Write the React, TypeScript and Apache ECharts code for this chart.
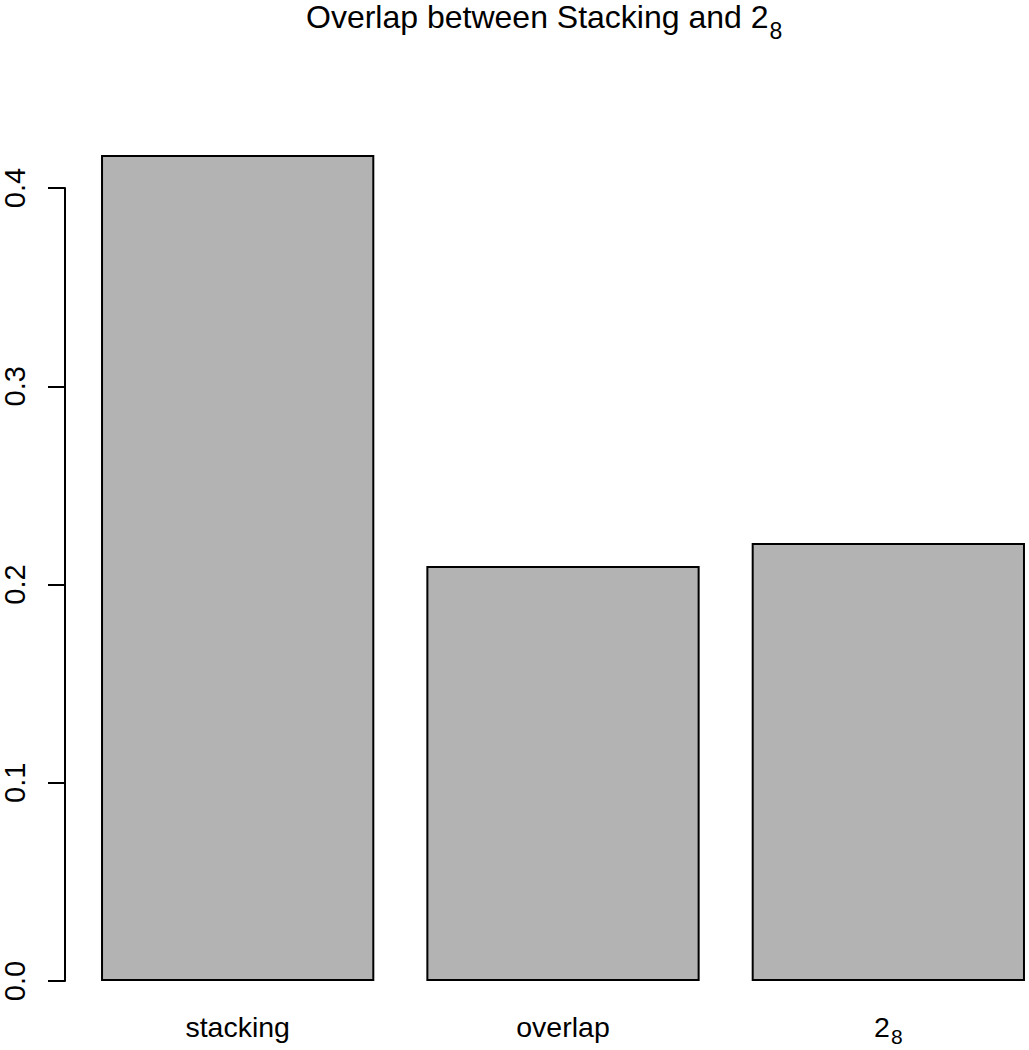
import React, { useEffect, useRef } from "react";
import * as echarts from "echarts";

const categories = ["stacking", "overlap", "2_8"];
const values = [0.4166, 0.2093, 0.2209];
const yTicks = [0, 0.1, 0.2, 0.3, 0.4];
const titleText = "Overlap between Stacking and 2{sub|8}";

const FONT = "'Liberation Sans', Arial, Helvetica, sans-serif";

export default function App() {
  const ref = useRef<HTMLDivElement>(null);
  useEffect(() => {
    if (!ref.current) return;
    const chart = echarts.init(ref.current, undefined, { renderer: "svg" });
    const option = {
      animation: false,
      backgroundColor: "#ffffff",
      textStyle: { fontFamily: FONT },
      title: {
        text: titleText,
        left: 301,
        top: -4,
        textStyle: {
          fontFamily: FONT,
          fontSize: 32,
          fontWeight: "normal",
          color: "#000",
          rich: {
            sub: {
              fontFamily: FONT,
              fontSize: 23,
              lineHeight: 23,
              padding: [18, 0, 0, 1],
              verticalAlign: "top",
              color: "#000",
            },
          },
        },
      },
      grid: { left: 73, right: 0, top: 188, bottom: 69, containLabel: false },
      xAxis: {
        type: "category",
        data: categories,
        axisLine: { show: false },
        axisTick: { show: false },
        axisLabel: {
          margin: 31,
          fontSize: 28.5,
          fontFamily: FONT,
          color: "#000",
          formatter: (v: string) => (v === "2_8" ? "2{sub|8}" : v),
          rich: {
            sub: { fontSize: 21, lineHeight: 21, padding: [14, 0, 0, 1], verticalAlign: "top", fontFamily: FONT, color: "#000" },
          },
        },
      },
      yAxis: {
        type: "value",
        min: yTicks[0],
        max: yTicks[yTicks.length - 1],
        interval: 0.1,
        offset: 10,
        axisLine: { show: true, lineStyle: { color: "#000", width: 2 } },
        axisTick: { show: true, length: 17, lineStyle: { color: "#000", width: 2 } },
        splitLine: { show: false },
        axisLabel: {
          rotate: 90,
          margin: 36,
          fontSize: 29,
          fontFamily: FONT,
          color: "#000",
          formatter: (v: number) => v.toFixed(1),
        },
      },
      series: [
        {
          type: "bar",
          data: values,
          clip: false,
          barCategoryGap: "16%",
          itemStyle: { color: "#b3b3b3", borderColor: "#000", borderWidth: 2 },
        },
      ],
    };
    chart.setOption(option as any);
    return () => chart.dispose();
  }, []);
  return (
    <div
      style={{ position: "absolute", left: 0, top: 0, width: 1029, height: 1050, overflow: "hidden", background: "#fff" }}
    >
      <div ref={ref} style={{ width: 1051, height: 1050 }} />
    </div>
  );
}
